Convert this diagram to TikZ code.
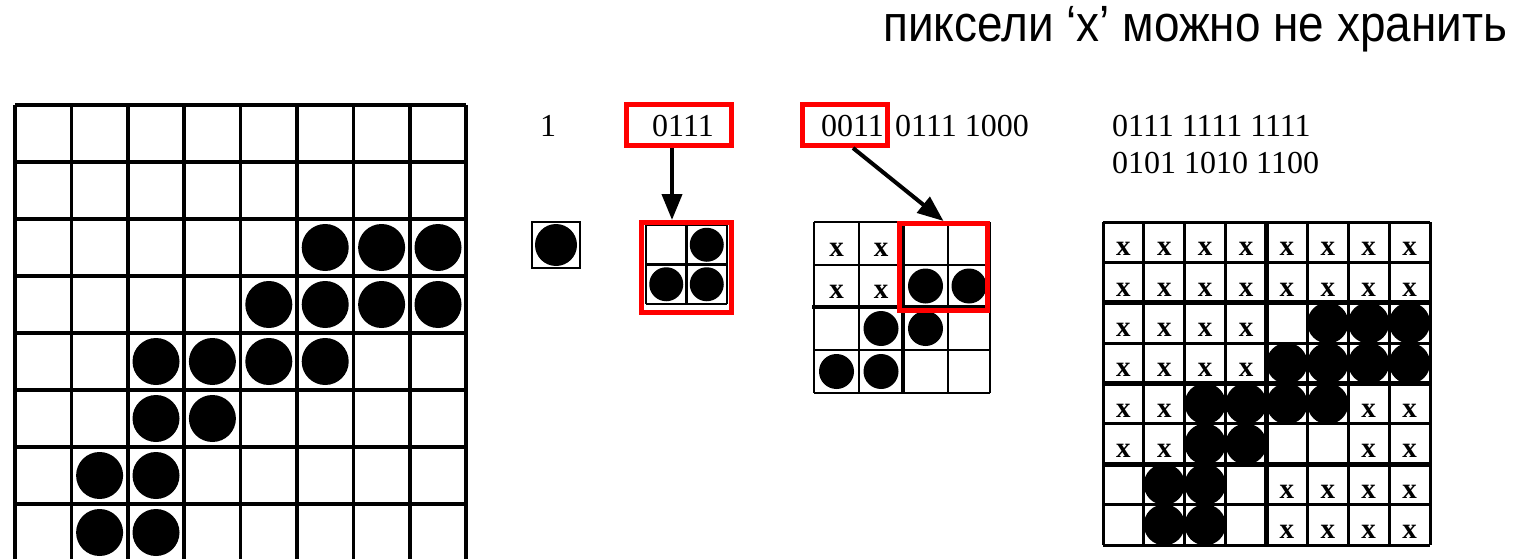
\documentclass[tikz,border=0pt]{standalone}
\usepackage{fontspec}
\setmainfont{Liberation Serif}
\newfontfamily\topfont[FakeStretch=0.90]{Liberation Sans}
\usetikzlibrary{arrows.meta,calc}
\begin{document}
\begin{tikzpicture}[x=1pt,y=-1pt,
  bigline/.style={line width=3.5pt},
  smallline/.style={line width=2.5pt},
  redbox/.style={draw=red, line width=5pt, inner sep=0pt, fill=none},
  bits/.style={font=\fontsize{32}{36}\selectfont, inner sep=0pt, anchor=base},
  xmark/.style={font=\bfseries\fontsize{29}{29}\selectfont, inner sep=0pt},
  arr/.style={line width=4pt, -{Triangle[length=26pt,width=20pt]}}]
\useasboundingbox (0,0) rectangle (1523,559);

% title
\node[font=\topfont\fontsize{51}{56}\selectfont, inner sep=0pt, anchor=base west] (title) at (883,42) {пиксели ‘x’ можно не хранить};

% ---------- big 8x8 grid ----------
\foreach \i in {0,...,8}
  \draw[bigline] ({15+\i*56.4},105) -- ({15+\i*56.4},561);
\foreach \j in {0,...,7}
  \draw[bigline] (15,{105+\j*57}) -- (466,{105+\j*57});
\foreach \r/\c in {2/5,2/6,2/7,3/4,3/5,3/6,3/7,4/2,4/3,4/4,4/5,5/2,5/3,6/1,6/2,7/1,7/2}
  \fill ({15+(\c+0.5)*56.4},{105+(\r+0.5)*57}) circle (23.5);

% ---------- level 1 ----------
\node[bits] (t0) at (548,137) {1};
\draw[smallline] (532,222) rectangle (580,268);
\fill (556,245) circle (21);

% ---------- level 2 ----------
\node[bits] (t1) at (683,137) {0111};
\node[redbox, minimum width=105, minimum height=41] (b1) at (679,125) {};
\foreach \i in {646,686.5,727}
  \draw[smallline] (\i,225) -- (\i,304);
\foreach \j in {225,264.5,304}
  \draw[smallline] (646,\j) -- (727,\j);
\foreach \cx/\cy in {706.75/244.75, 666.25/284.25, 706.75/284.25}
  \fill (\cx,\cy) circle (17);
\node[redbox, minimum width=90, minimum height=90] (g2) at (686.5,267.5) {};
\draw[arr] ([xshift=-7pt]b1.south) -- ([xshift=-14.5pt]g2.north);

% ---------- level 3 ----------
\node[bits] (t2) at (852.5,137) {0011};
\node[bits, anchor=base west] (t3) at (895,137) {0111 1000};
\node[redbox, minimum width=85, minimum height=41] (b2) at (845,125) {};
\foreach \i in {814,859,903,948,990}
  \draw[smallline] (\i,222) -- (\i,393);
\foreach \j in {222,265,307,350,393}
  \draw[smallline] (814,\j) -- (990,\j);
\draw[line width=4pt] (903,222) -- (903,393);
\draw[line width=4pt] (812,307) -- (990,307);
\foreach \cx/\cy in {836.5/243.5, 881/243.5, 836.5/286, 881/286}
  \node[xmark] at (\cx,{\cy+6}) {x};
\foreach \cx/\cy in {925.5/286, 969/286, 881/328.5, 925.5/328.5, 836.5/371.5, 881/371.5}
  \fill (\cx,\cy) circle (17.5);
\node[redbox, minimum width=88, minimum height=87] (g3) at (943.5,267) {};
\draw[arr] ([xshift=8pt]b2.south) -- (g3.north);

% ---------- level 4 ----------
\node[bits, anchor=base west] (t4) at (1112,137) {0111 1111 1111};
\node[bits, anchor=base west] (t5) at (1112,173) {0101 1010 1100};
\foreach \i in {0,...,8}
  \draw[line width=3pt] ({1103+\i*40.875},222) -- ({1103+\i*40.875},545);
\foreach \j in {0,...,8}
  \draw[line width=3pt] (1103,{222+\j*40.375}) -- (1430,{222+\j*40.375});
\draw[line width=5pt] ({1103+4*40.875},222) -- ({1103+4*40.875},545);
\foreach \j in {2,4,6}
  \draw[line width=5pt] (1103,{222+\j*40.375}) -- (1432,{222+\j*40.375});
\foreach \r/\c in {0/0,0/1,0/2,0/3,0/4,0/5,0/6,0/7,
                   1/0,1/1,1/2,1/3,1/4,1/5,1/6,1/7,
                   2/0,2/1,2/2,2/3,
                   3/0,3/1,3/2,3/3,
                   4/0,4/1,4/6,4/7,
                   5/0,5/1,5/6,5/7,
                   6/4,6/5,6/6,6/7,
                   7/4,7/5,7/6,7/7}
  \node[xmark] at ({1103+(\c+0.5)*40.875},{222+(\r+0.5)*40.375+7}) {x};
\foreach \r/\c in {2/5,2/6,2/7,3/4,3/5,3/6,3/7,4/2,4/3,4/4,4/5,5/2,5/3,6/1,6/2,7/1,7/2}
  \fill ({1103+(\c+0.5)*40.875},{222+(\r+0.5)*40.375}) circle (20.5);
\end{tikzpicture}
\end{document}
